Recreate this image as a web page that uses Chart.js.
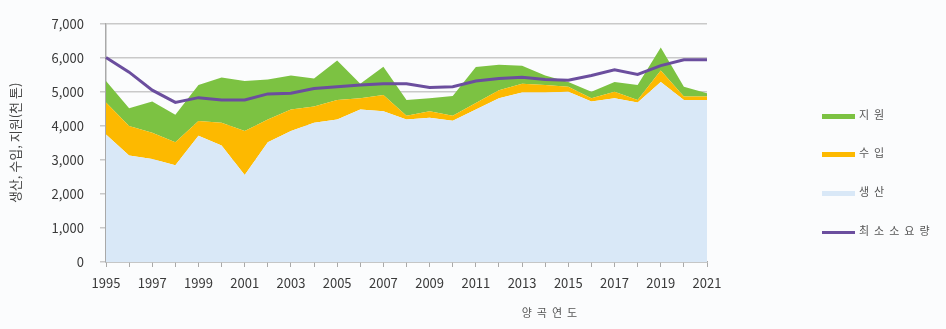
<!DOCTYPE html>
<html>
<head>
<meta charset="utf-8">
<script src="https://cdn.jsdelivr.net/npm/chart.js@4/dist/chart.umd.min.js"></script>
<style>
  html, body { margin: 0; padding: 0; background: #fbfcfd; }
  #wrap { position: relative; width: 946px; height: 329px; overflow: hidden;
    font-family: "Noto Sans CJK KR", "Noto Sans", sans-serif; }
  #chart-box { position: absolute; left: 0; top: 0; width: 946px; height: 329px; }
  .legend { position: absolute; left: 822px; font-size: 11px; color: #555; letter-spacing: 5px; }
  .legend-item { position: absolute; left: 0; height: 16px; line-height: 16px; white-space: nowrap; }
  .swatch { display: inline-block; width: 33px; vertical-align: middle; margin-right: 4px; }
  #x-title { position: absolute; left: 512px; top: 304px; width: 80px; text-align: center;
    font-size: 11px; color: #555; letter-spacing: 5px; }
</style>
</head>
<body>
<div id="wrap">
  <div id="chart-box"><canvas id="grain-chart"></canvas></div>
  <div id="legend" class="legend"></div>
  <div id="x-title">양곡연도</div>
</div>
<script>
  // --- Data (thousand tons) ---
  const years = ["1995", "1996", "1997", "1998", "1999", "2000", "2001", "2002", "2003",
    "2004", "2005", "2006", "2007", "2008", "2009", "2010", "2011", "2012", "2013",
    "2014", "2015", "2016", "2017", "2018", "2019", "2020", "2021"];

  const production = [3750, 3130, 3030, 2840, 3710, 3420, 2560, 3520, 3850,
    4090, 4190, 4480, 4430, 4190, 4240, 4150, 4480, 4810, 4980,
    4980, 5000, 4720, 4810, 4690, 5290, 4760, 4760];

  const imports = [940, 870, 770, 680, 430, 670, 1290, 670, 630,
    480, 570, 330, 480, 110, 190, 150, 190, 240, 260,
    220, 150, 90, 190, 70, 340, 100, 100];

  const aid = [630, 520, 920, 810, 1060, 1330, 1470, 1170, 1000,
    820, 1160, 430, 830, 460, 380, 580, 1060, 750, 530,
    280, 140, 190, 290, 440, 670, 290, 100];

  const minRequirement = [6010, 5580, 5050, 4690, 4830, 4760, 4760, 4940, 4960,
    5100, 5150, 5200, 5240, 5240, 5130, 5150, 5320, 5390, 5430,
    5360, 5340, 5480, 5650, 5510, 5770, 5940, 5940];

  const yTicks = [0, 1000, 2000, 3000, 4000, 5000, 6000, 7000];

  const colors = {
    production: "#d9e8f7",
    imports: "#fdb900",
    aid: "#7cc242",
    minRequirement: "#6b4e9e",
    grid: "#c9c9c9",
    axis: "#a9a9a9",
    text: "#3a3a3a"
  };

  Chart.defaults.font.family = '"Noto Sans CJK KR", "Noto Sans", sans-serif';
  Chart.defaults.color = colors.text;

  const areaStyle = { pointRadius: 0, borderWidth: 0, tension: 0, order: 1 };

  const ctx = document.getElementById("grain-chart").getContext("2d");
  const chart = new Chart(ctx, {
    type: "line",
    data: {
      labels: years,
      datasets: [
        { label: "생산", data: production, backgroundColor: colors.production,
          borderColor: colors.production, fill: "origin", ...areaStyle },
        { label: "수입", data: imports, backgroundColor: colors.imports,
          borderColor: colors.imports, fill: "-1", ...areaStyle },
        { label: "지원", data: aid, backgroundColor: colors.aid,
          borderColor: colors.aid, fill: "-1", ...areaStyle },
        { label: "최소소요량", data: minRequirement, borderColor: colors.minRequirement,
          borderWidth: 3, pointRadius: 0, fill: false, tension: 0,
          stack: "requirement", order: 0 }
      ]
    },
    options: {
      responsive: true,
      maintainAspectRatio: false,
      animation: false,
      layout: { padding: { top: 19, right: 239, bottom: 0, left: 0 } },
      plugins: {
        legend: { display: false },
        tooltip: { enabled: false }
      },
      scales: {
        x: {
          offset: false,
          grid: { drawOnChartArea: false, drawTicks: true, tickLength: 5, color: colors.axis },
          border: { color: colors.axis, width: 1.5 },
          ticks: {
            autoSkip: false,
            maxRotation: 0,
            padding: 8,
            font: { size: 13 },
            callback: (value, index) => (index % 2 === 0 ? years[index] : "")
          },
          afterFit: scale => { scale.height = 67; }
        },
        y: {
          stacked: true,
          min: yTicks[0],
          max: yTicks[yTicks.length - 1],
          afterBuildTicks: scale => { scale.ticks = yTicks.map(v => ({ value: v })); },
          grid: { color: colors.grid, lineWidth: 1.5, tickLength: 6 },
          border: { color: colors.axis, width: 1.5 },
          ticks: {
            padding: 16,
            font: { size: 13 },
            callback: value => value.toLocaleString("en-US")
          },
          title: {
            display: true,
            text: "생산, 수입, 지원(천 톤)",
            font: { size: 13 },
            color: "#444",
            padding: { top: 7, bottom: 0 }
          },
          afterFit: scale => { scale.width = 106; }
        }
      }
    }
  });

  // --- HTML legend ---
  const legendOrder = [2, 1, 0, 3];
  const legendTops = [106, 144, 183, 222];
  const legendEl = document.getElementById("legend");
  legendOrder.forEach((dsIndex, i) => {
    const ds = chart.data.datasets[dsIndex];
    const item = document.createElement("div");
    item.className = "legend-item";
    item.style.top = legendTops[i] + "px";
    const isLine = dsIndex === 3;
    item.innerHTML =
      `<span class="swatch" style="height:${isLine ? 3 : 5}px;background:${isLine ? ds.borderColor : ds.backgroundColor}"></span>${ds.label}`;
    legendEl.appendChild(item);
  });
</script>
</body>
</html>
